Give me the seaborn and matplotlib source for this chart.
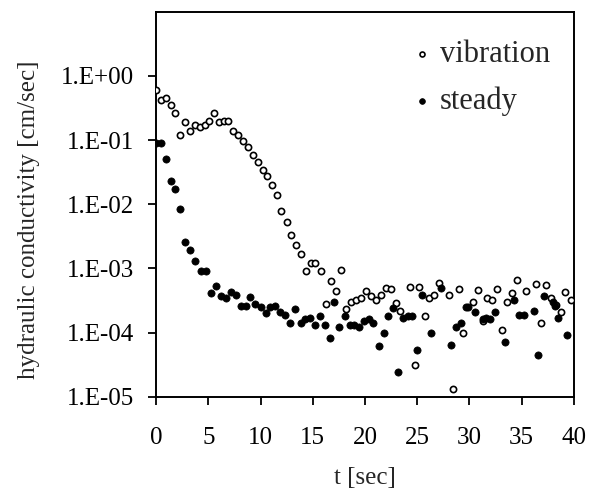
import matplotlib
matplotlib.use("Agg")
import matplotlib.pyplot as plt
import matplotlib.ticker as mticker
import seaborn as sns
import pandas as pd

# ---- data ----
t_vibration = [0, 0.44, 0.91, 1.42, 1.85, 2.32, 2.79, 3.27, 3.74, 4.17,
               4.65, 5.08, 5.55, 5.99, 6.46, 6.93, 7.40, 7.88, 8.35, 8.82,
               9.29, 9.76, 10.2, 10.64, 11.1, 11.58, 11.98, 12.49, 12.93, 13.4,
               13.87, 14.35, 14.83, 15.26, 15.8, 16.27, 16.73, 17.18, 17.73, 18.18,
               18.68, 19.16, 19.62, 20.08, 20.58, 21.06, 21.5, 21.98, 22.45, 22.92,
               23.38, 24.27, 24.74, 25.2, 25.7, 26.12, 26.6, 27.06, 28.03, 28.46,
               28.95, 29.4, 30.33, 30.8, 31.28, 31.71, 32.17, 32.63, 33.13, 33.6,
               34.06, 34.52, 35.42, 36.36, 36.82, 37.31, 37.78, 38.23, 38.71, 39.16,
               39.72]
k_vibration = [0.60, 0.42, 0.46, 0.35, 0.26, 0.12, 0.19, 0.14, 0.17, 0.16,
               0.17, 0.20, 0.26, 0.19, 0.20, 0.20, 0.14, 0.12, 0.098, 0.078,
               0.059, 0.046, 0.034, 0.028, 0.020, 0.014, 7.8e-3, 5.2e-3, 3.3e-3, 2.3e-3,
               1.7e-3, 9.1e-4, 1.2e-3, 1.2e-3, 9.1e-4, 2.8e-4, 6.3e-4, 4.4e-4, 9.5e-4, 2.3e-4,
               3.0e-4, 3.2e-4, 3.5e-4, 4.5e-4, 3.7e-4, 3.2e-4, 3.8e-4, 5.0e-4, 4.7e-4, 2.9e-4,
               2.2e-4, 5.2e-4, 3.1e-5, 5.2e-4, 1.8e-4, 3.5e-4, 3.8e-4, 5.9e-4, 3.8e-4, 1.3e-5,
               4.8e-4, 1.0e-4, 3.0e-4, 4.6e-4, 1.5e-4, 3.5e-4, 3.2e-4, 4.8e-4, 1.1e-4, 3.0e-4,
               4.2e-4, 6.6e-4, 4.5e-4, 5.8e-4, 1.4e-4, 5.6e-4, 3.5e-4, 2.7e-4, 2.1e-4, 4.3e-4,
               3.2e-4]

t_steady = [0, 0.5, 0.94, 1.42, 1.85, 2.32, 2.79, 3.27, 3.74, 4.28,
            4.75, 5.23, 5.77, 6.21, 6.72, 7.22, 7.70, 8.17, 8.60, 9.04,
            9.51, 10.02, 10.49, 10.93, 11.40, 11.87, 12.36, 12.86, 13.32, 13.84,
            14.25, 14.75, 15.23, 15.67, 16.13, 16.61, 17.05, 17.53, 18.04, 18.52,
            18.97, 19.44, 19.88, 20.34, 20.8, 21.31, 21.79, 22.21, 22.69, 23.14,
            23.62, 24.07, 24.53, 24.93, 25.45, 26.3, 27.31, 28.25, 28.68, 29.16,
            29.64, 29.82, 30.54, 31.25, 31.57, 31.98, 32.46, 33.39, 34.29, 34.71,
            35.19, 36.15, 36.57, 37.12, 37.98, 38.2, 38.46, 39.36]
k_steady = [0.091, 0.089, 0.051, 0.023, 0.017, 8.5e-3, 2.6e-3, 1.9e-3, 1.3e-3, 9.1e-4,
            9.1e-4, 4.2e-4, 5.4e-4, 3.7e-4, 3.5e-4, 4.3e-4, 3.8e-4, 2.6e-4, 2.6e-4, 3.6e-4,
            2.8e-4, 2.5e-4, 2.0e-4, 2.5e-4, 2.6e-4, 2.1e-4, 1.9e-4, 1.4e-4, 2.3e-4, 1.4e-4,
            1.6e-4, 1.7e-4, 1.3e-4, 1.8e-4, 1.3e-4, 8.3e-5, 3.0e-4, 1.2e-4, 1.8e-4, 1.3e-4,
            1.3e-4, 1.2e-4, 1.5e-4, 1.6e-4, 1.4e-4, 6.2e-5, 9.8e-5, 1.8e-4, 2.4e-4, 2.4e-5,
            1.7e-4, 1.8e-4, 1.8e-4, 5.4e-5, 3.8e-4, 1.0e-4, 5.0e-4, 6.5e-5, 1.2e-4, 1.4e-4,
            2.5e-4, 2.5e-4, 2.1e-4, 1.6e-4, 1.7e-4, 1.6e-4, 2.1e-4, 7.1e-5, 3.2e-4, 1.9e-4,
            1.9e-4, 2.2e-4, 4.5e-5, 3.7e-4, 3.0e-4, 2.6e-4, 1.7e-4, 9.1e-5]

series_names = ["vibration", "steady"]
y_tick_values = [1e-5, 1e-4, 1e-3, 1e-2, 1e-1, 1e0]
y_tick_labels = ["1.E-05", "1.E-04", "1.E-03", "1.E-02", "1.E-01", "1.E+00"]
x_tick_values = [0, 5, 10, 15, 20, 25, 30, 35, 40]
x_label = "t [sec]"
y_label = "hydraulic conductivity [cm/sec]"

df_vib = pd.DataFrame({"t": t_vibration, "k": k_vibration})
df_std = pd.DataFrame({"t": t_steady, "k": k_steady})

sns.set_style("ticks")
plt.rcParams["font.family"] = ["Liberation Serif", "DejaVu Serif"]

fig = plt.figure(figsize=(5.93, 4.96), dpi=100)
ax = fig.add_axes([156 / 593, 1 - 396.7 / 496, (574 - 156) / 593, (396.7 - 11.7) / 496])

sns.scatterplot(data=df_vib, x="t", y="k", ax=ax, marker="o", s=20,
                color="white", edgecolor="black", linewidth=1.2,
                label=series_names[0], zorder=3)
sns.scatterplot(data=df_std, x="t", y="k", ax=ax, marker="o", s=27,
                color="black", edgecolor="black", linewidth=0.5,
                label=series_names[1], zorder=4)

ax.set_yscale("log")
ax.set_ylim(1e-5, 1e1)
ax.set_xlim(0, 40)
ax.yaxis.set_major_locator(mticker.FixedLocator(y_tick_values))
ax.yaxis.set_major_formatter(mticker.FixedFormatter(y_tick_labels))
ax.yaxis.set_minor_locator(mticker.NullLocator())
ax.set_xticks(x_tick_values)
ax.set_xticklabels([str(v) for v in x_tick_values])

for sp in ax.spines.values():
    sp.set_visible(True)
    sp.set_linewidth(1.4)
    sp.set_color("black")

ax.tick_params(axis="both", which="major", direction="out", length=5.5,
               width=1.3, colors="black", labelsize=18)
ax.tick_params(axis="y", pad=10)
ax.tick_params(axis="x", pad=16.5)

ax.set_xlabel(x_label, fontsize=18, labelpad=13)
ax.set_ylabel(y_label, fontsize=18)
ax.yaxis.set_label_coords((40 - 156) / 418, (396.7 - 220) / 385)

leg = ax.legend(loc="upper left", bbox_to_anchor=(0.588, 0.959), frameon=False,
                fontsize=22, handlelength=0.5, handletextpad=0.35,
                labelspacing=0.58, borderaxespad=0.0, markerscale=0.8)

fig.savefig("out.png", dpi=100)
